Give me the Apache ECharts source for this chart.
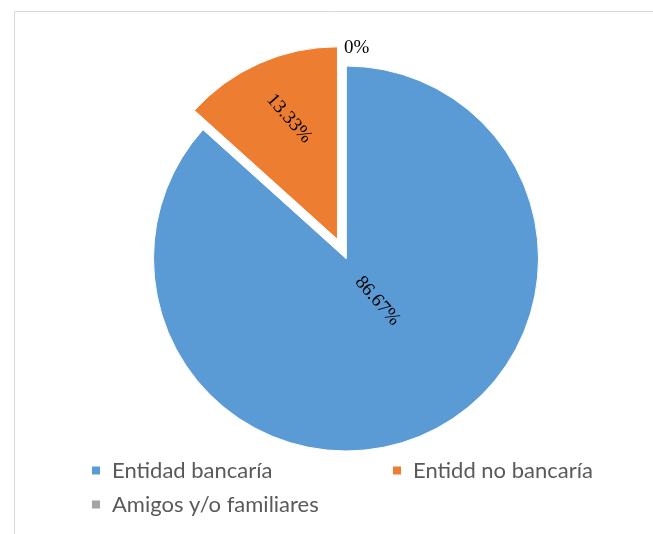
<!DOCTYPE html>
<html>
<head>
<meta charset="utf-8">
<script src="https://cdn.jsdelivr.net/npm/echarts@6/dist/echarts.min.js"></script>
<style>
  html, body { margin: 0; padding: 0; background: #fff; }
  #chart { width: 653px; height: 534px; }
</style>
</head>
<body>
<div id="chart"></div>
<script>
// Fuente de financiamiento (porcentaje de encuestados)
const categories = ['Entidad bancaría', 'Entidd no bancaría', 'Amigos y/o familiares'];
const values = [86.67, 13.33, 0];
const colors = ['#5B9BD5', '#ED7D31', '#A5A5A5'];
const explodedIndex = 1;

// Inside labels run diagonally (degrees, clockwise on screen)
const labelTilt = 49;
// Screen-space nudges from the library's default label anchor
const labelShift = [
  { sx: -9, sy: -48 },
  { sx: -8, sy: -30 },
  { sx: -7, sy: -18 }
];

const chart = echarts.init(document.getElementById('chart'), null, { renderer: 'canvas' });

const pieData = categories.map((name, i) => ({
  name: name,
  value: values[i],
  selected: i === explodedIndex,
  itemStyle: { color: colors[i] },
  select: { itemStyle: { color: colors[i], borderColor: '#fff', borderWidth: 1 } },
  label: i === 2
    ? { position: 'outside', rotate: 0 }
    : { position: 'inside', rotate: -labelTilt },
  labelLine: { show: false, length: 0, length2: 0 }
}));

chart.setOption({
  animation: false,
  backgroundColor: '#fff',
  graphic: [{
    type: 'rect',
    shape: { x: 14.5, y: 11.5, width: 800, height: 800 },
    style: { fill: 'none', stroke: '#D9D9D9', lineWidth: 1 },
    silent: true
  }],
  legend: {
    data: categories,
    left: 92,
    top: 459.5,
    padding: 0,
    width: 620,
    orient: 'horizontal',
    icon: 'rect',
    itemWidth: 8,
    itemHeight: 8,
    itemGap: 12,
    selectedMode: false,
    itemStyle: { borderWidth: 0 },
    textStyle: {
      fontFamily: 'Lato',
      fontSize: 22,
      color: '#595959',
      width: 269,
      lineHeight: 21,
      padding: [0, 0, 0, 7]
    }
  },
  series: [{
    type: 'pie',
    center: [346, 258.5],
    radius: [0, 192.5],
    startAngle: 90,
    clockwise: true,
    selectedMode: 'single',
    selectedOffset: 21,
    avoidLabelOverlap: false,
    emphasis: { disabled: true },
    itemStyle: { borderColor: '#fff', borderWidth: 1 },
    label: {
      show: true,
      formatter: (p) => p.value + '%',
      fontFamily: 'Liberation Serif',
      fontSize: 19,
      color: '#000'
    },
    labelLayout: (params) => {
      const i = params.dataIndex;
      const s = labelShift[i];
      if (i === 2) {
        return { dx: s.sx, dy: s.sy, align: 'left', verticalAlign: 'middle' };
      }
      // dx/dy act in the label's rotated frame, so turn the screen nudge back
      const a = labelTilt * Math.PI / 180;
      const c = Math.cos(a), n = Math.sin(a);
      return { dx: c * s.sx + n * s.sy, dy: -n * s.sx + c * s.sy };
    },
    data: pieData
  }]
});
</script>
</body>
</html>
